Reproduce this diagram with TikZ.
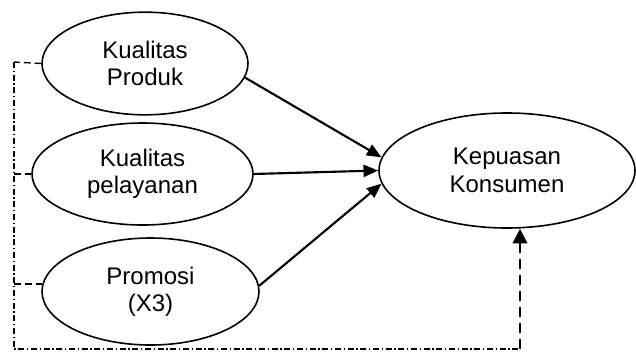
\documentclass[tikz,border=0pt]{standalone}
\usepackage{fontspec}
\setmainfont{Liberation Sans}
\usetikzlibrary{shapes.geometric,arrows.meta}
\tikzset{
  var/.style={draw,ellipse,inner sep=0pt,line width=1.2pt,align=center,
    font=\fontsize{18}{20.5}\selectfont},
  link/.style={line width=1.6pt,-{Triangle[length=11pt,width=9pt]}},
  stub/.style={line width=1pt,dash pattern=on 5pt off 3pt},
  back/.style={line width=0.9pt,dash pattern=on 4.5pt off 2pt on 1pt off 2pt},
  ret/.style={line width=1.6pt,dash pattern=on 7.5pt off 4.5pt,
    -{Triangle[length=11pt,width=11pt]}}
}
\begin{document}
\begin{tikzpicture}[x=0.75pt,y=-0.75pt]
\useasboundingbox (0,0) rectangle (636,351);
% variables
\node[var,minimum width=154.5pt,minimum height=77pt] (prod) at (145,63.5) {Kualitas\\Produk};
\node[var,minimum width=165.75pt,minimum height=76.5pt] (pel) at (142.5,174) {Kualitas\\pelayanan};
\node[var,minimum width=162.75pt,minimum height=80.25pt] (promo) at (150.5,291.5) {Promosi\\(X3)};
\node[var,minimum width=192pt,minimum height=86.25pt] (kep) at (507,170.5) {Kepuasan\\Konsumen};
% paths
\draw[link] (prod.-8) -- (kep.174);
\draw[link] (pel.east) -- (kep.180);
\draw[link] (promo.3) -- (kep.186);
% feedback
\coordinate (ctop) at (14,62);
\coordinate (cbot) at (14,349);
\coordinate (fb) at (520,349);
\draw[stub] (prod.west) -- (ctop);
\draw[stub] (pel.west) -- (pel.west -| ctop);
\draw[stub] (promo.176) -- (promo.176 -| ctop);
\draw[back] (ctop) -- (cbot) -- (fb);
\draw[ret] (fb) -- (fb |- kep.south);
\end{tikzpicture}
\end{document}
